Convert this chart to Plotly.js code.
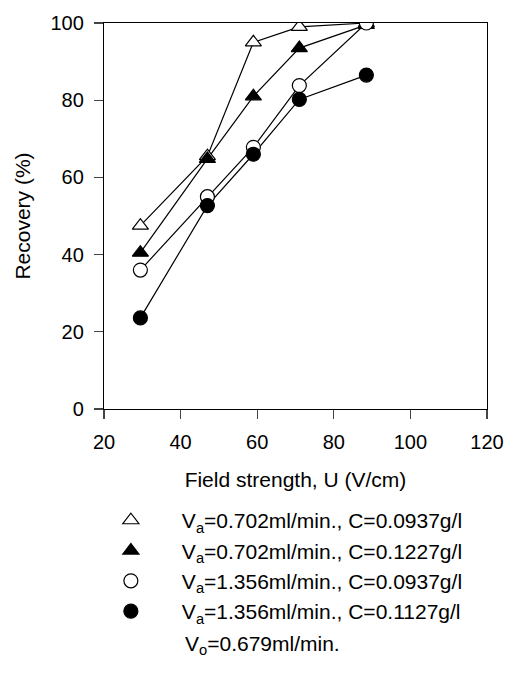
<!DOCTYPE html>
<html>
<head>
<meta charset="utf-8">
<script src="https://cdn.plot.ly/plotly-3.0.1.min.js"></script>
<style>html,body{margin:0;padding:0;background:#fff;}#chart{width:508px;height:677px;}</style>
</head>
<body>
<div id="chart"></div>
<script>
// Field strength, U (V/cm)
const fieldStrength = [29.5, 47, 59, 71, 88.5];
// Recovery (%)
const recA = [47.5, 65.5, 95, 99, 100];   // Va=0.702, C=0.0937 (open triangle)
const recB = [40.5, 64.8, 81, 93.5, 99.5]; // Va=0.702, C=0.1227 (filled triangle)
const recC = [36, 55, 67.8, 83.8, 100];   // Va=1.356, C=0.0937 (open circle)
const recD = [23.6, 52.7, 66, 80.2, 86.5]; // Va=1.356, C=0.1127 (filled circle)
const seriesNames = [
  "V<sub>a</sub>=0.702ml/min., C=0.0937g/l",
  "V<sub>a</sub>=0.702ml/min., C=0.1227g/l",
  "V<sub>a</sub>=1.356ml/min., C=0.0937g/l",
  "V<sub>a</sub>=1.356ml/min., C=0.1127g/l"
];
const noteText = "V<sub>o</sub>=0.679ml/min.";
const xTicks = [20, 40, 60, 80, 100, 120];
const yTicks = [0, 20, 40, 60, 80, 100];

const seriesData = [recA, recB, recC, recD];
const symbols = ["triangle-up", "triangle-up", "circle", "circle"];
const fills = ["white", "black", "white", "black"];
const sizes = [14, 14, 14, 14];

const traces = [];
seriesData.forEach((ys, i) => {
  traces.push({
    x: fieldStrength, y: ys, mode: "lines", type: "scatter",
    line: {color: "black", width: 1.2}, showlegend: false, hoverinfo: "skip"
  });
});
seriesData.forEach((ys, i) => {
  traces.push({
    x: fieldStrength, y: ys, mode: "markers", type: "scatter",
    name: seriesNames[i], legendgroup: "g" + i,
    marker: {symbol: symbols[i], size: sizes[i], color: fills[i], line: {color: "black", width: 1.2}}
  });
});

const family = "Liberation Sans, Arial, sans-serif";
const tickFont = {family: family, size: 20, color: "black"};
const font = {family: family, size: 21, color: "black"};

const layout = {
  width: 508, height: 677,
  margin: {l: 104, r: 21, t: 23, b: 268},
  paper_bgcolor: "white", plot_bgcolor: "white",
  font: font,
  xaxis: {
    range: [20, 120], tickvals: xTicks, ticks: "outside", ticklen: 9, tickwidth: 1.2,
    showline: true, mirror: true, linecolor: "black", linewidth: 1.2,
    showgrid: false, zeroline: false, tickfont: tickFont, ticklabelstandoff: 6,
    title: {text: "Field strength, U (V/cm)", font: font, standoff: 20}
  },
  yaxis: {
    range: [0, 100], tickvals: yTicks, ticks: "outside", ticklen: 9, tickwidth: 1.2,
    showline: true, mirror: true, linecolor: "black", linewidth: 1.2,
    showgrid: false, zeroline: false, tickfont: tickFont, ticklabelstandoff: 6,
    title: {text: "Recovery (%)", font: font, standoff: 14}
  },
  showlegend: true,
  legend: {
    x: -0.063, xanchor: "left", y: -0.236, yanchor: "top",
    font: font, itemwidth: 92, tracegroupgap: 0, bgcolor: "rgba(0,0,0,0)",
    traceorder: "grouped"
  },
  annotations: [{
    text: noteText, xref: "paper", yref: "paper", x: 0.206, y: -0.611,
    xanchor: "left", yanchor: "middle", showarrow: false, font: font
  }]
};

Plotly.newPlot("chart", traces, layout, {displayModeBar: false, staticPlot: true});
</script>
</body>
</html>
